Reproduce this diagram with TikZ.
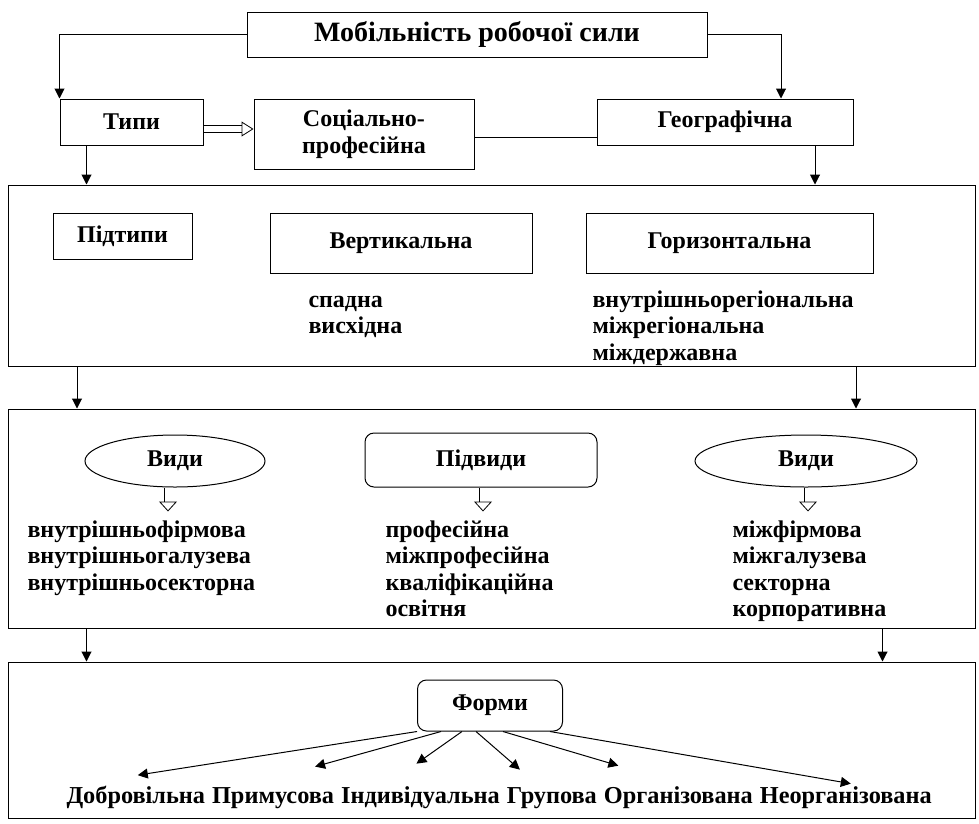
\documentclass[tikz,border=0pt]{standalone}
\usepackage{fontspec}
\setmainfont{Liberation Serif}
\usetikzlibrary{arrows.meta,positioning,shapes.geometric,calc}

\begin{document}
\begin{tikzpicture}[x=1pt,y=-1pt,line width=1pt,
    font=\fontsize{24}{26.5}\selectfont\bfseries,
    blk/.style={draw,rectangle,inner sep=0pt},
    oval/.style={draw,ellipse,inner sep=0pt},
    rblk/.style={draw,rectangle,rounded corners=9pt,inner sep=0pt},
    lst/.style={align=left,anchor=base west,inner sep=0pt},
    wrd/.style={anchor=base west,inner sep=0pt,font=\fontsize{24.3}{26.5}\selectfont\bfseries},
    arr/.style={-{Triangle[length=10pt,width=10pt]}},
    hollow/.style={double,double distance=6pt,line width=0.8pt,-{Triangle[open,length=12pt,width=15pt]}},
    hollowdn/.style={double,double distance=7pt,line width=0.8pt,-{Triangle[open,length=10pt,width=18pt]}}]
      \useasboundingbox (0,0) rectangle (979,823);

      % top level
      \node[blk,minimum width=460pt,minimum height=45pt,font=\fontsize{28}{30}\selectfont\bfseries] (mob) at (477,34.5) {Мобільність робочої сили};
      \node[blk,minimum width=143pt,minimum height=46pt] (tupy) at (131.5,122) {Типи};
      \node[blk,minimum width=220pt,minimum height=70pt,align=center] (socprof) at (364,134) {Соціально-\\професійна};
      \node[blk,minimum width=256pt,minimum height=46pt] (geo) at (725,122) {Географічна};

      \draw[arr] (mob.west) -| (tupy.north west);
      \draw[arr] (mob.east) -| ([xshift=56pt]geo.north);
      \draw[hollow] ([yshift=-7pt]tupy.east) coordinate (h1) -- (h1 -| socprof.west);
      \draw ([yshift=-3pt]socprof.east) coordinate (s1) -- (s1 -| geo.west);

      % subtypes (list nodes sit on the baseline of their last line)
      \node[blk,minimum width=967pt,minimum height=181pt] (rivn1) at (491.5,275.5) {};
      \node[blk,minimum width=139pt,minimum height=46pt] (pidtupy) at (122.5,236) {Підтипи};
      \node[blk,minimum width=262pt,minimum height=60pt] (vert) at (401,243) {Вертикальна};
      \node[blk,minimum width=287pt,minimum height=60pt] (horiz) at (729.5,243) {Горизонтальна};
      \node[lst] (vertlst) at (308,333.5) {спадна\\висхідна};
      \node[lst] (horizlst) at (592,360) {внутрішньорегіональна\\міжрегіональна\\міждержавна};

      \draw[arr] ([xshift=-45pt]tupy.south) coordinate (t1) -- (t1 |- rivn1.north);
      \draw[arr] ([xshift=90pt]geo.south) coordinate (g1) -- (g1 |- rivn1.north);

      % kinds
      \node[blk,minimum width=967pt,minimum height=219pt] (rivn2) at (491.5,518.5) {};
      \node[oval,minimum width=180pt,minimum height=52pt] (vydy1) at (175,461) {Види};
      \node[rblk,minimum width=232pt,minimum height=54pt] (pidvydy) at (481,460) {Підвиди};
      \node[oval,minimum width=222pt,minimum height=52pt] (vydy2) at (806,461) {Види};
      \node[lst] (vnutr) at (27,590) {внутрішньофірмова\\внутрішньогалузева\\внутрішньосекторна};
      \node[lst] (prof) at (385,616.5) {професійна\\міжпрофесійна\\кваліфікаційна\\освітня};
      \node[lst] (mizh) at (732,616.5) {міжфірмова\\міжгалузева\\секторна\\корпоративна};

      \draw[hollowdn] ([xshift=-7pt]vydy1.south) -- ++(0,24);
      \draw[hollowdn] ([xshift=2pt]pidvydy.south) -- ++(0,24);
      \draw[hollowdn] ([xshift=2pt]vydy2.south) -- ++(0,24);

      \draw[arr] ([xshift=-414.5pt]rivn1.south) coordinate (r1) -- (r1 |- rivn2.north);
      \draw[arr] ([xshift=364.5pt]rivn1.south) coordinate (r2) -- (r2 |- rivn2.north);

      % forms
      \node[blk,minimum width=967pt,minimum height=156pt] (rivn3) at (491.5,740) {};
      \node[rblk,minimum width=145pt,minimum height=51pt] (formy) at (490,705.5) {Форми};
      \node[wrd] (w1) at (66,803) {Добровільна};
      \node[wrd,right=6pt of w1.base east,anchor=base west] (w2) {Примусова};
      \node[wrd,right=6pt of w2.base east,anchor=base west] (w3) {Індивідуальна};
      \node[wrd,right=6pt of w3.base east,anchor=base west] (w4) {Групова};
      \node[wrd,right=6pt of w4.base east,anchor=base west] (w5) {Організована};
      \node[wrd,right=6pt of w5.base east,anchor=base west] (w6) {Неорганізована};

      \draw[arr] ([xshift=-405pt]rivn2.south) coordinate (q1) -- (q1 |- rivn3.north);
      \draw[arr] ([xshift=391pt]rivn2.south) coordinate (q2) -- (q2 |- rivn3.north);

      \draw[arr] ([xshift=-73pt]formy.south) -- ([shift={(2pt,10pt)}]w1.north);
      \draw[arr] ([xshift=-49pt]formy.south) -- ([shift={(42pt,20pt)}]w2.north);
      \draw[arr] ([xshift=-28pt]formy.south) -- ([shift={(-4pt,22pt)}]w3.north);
      \draw[arr] ([xshift=-14pt]formy.south) -- ([shift={(-32pt,17pt)}]w4.north);
      \draw[arr] ([xshift=13pt]formy.south) -- ([shift={(-60pt,20pt)}]w5.north);
      \draw[arr] ([xshift=60pt]formy.south) -- ([shift={(5pt,2pt)}]w6.north);
\end{tikzpicture}
\end{document}
